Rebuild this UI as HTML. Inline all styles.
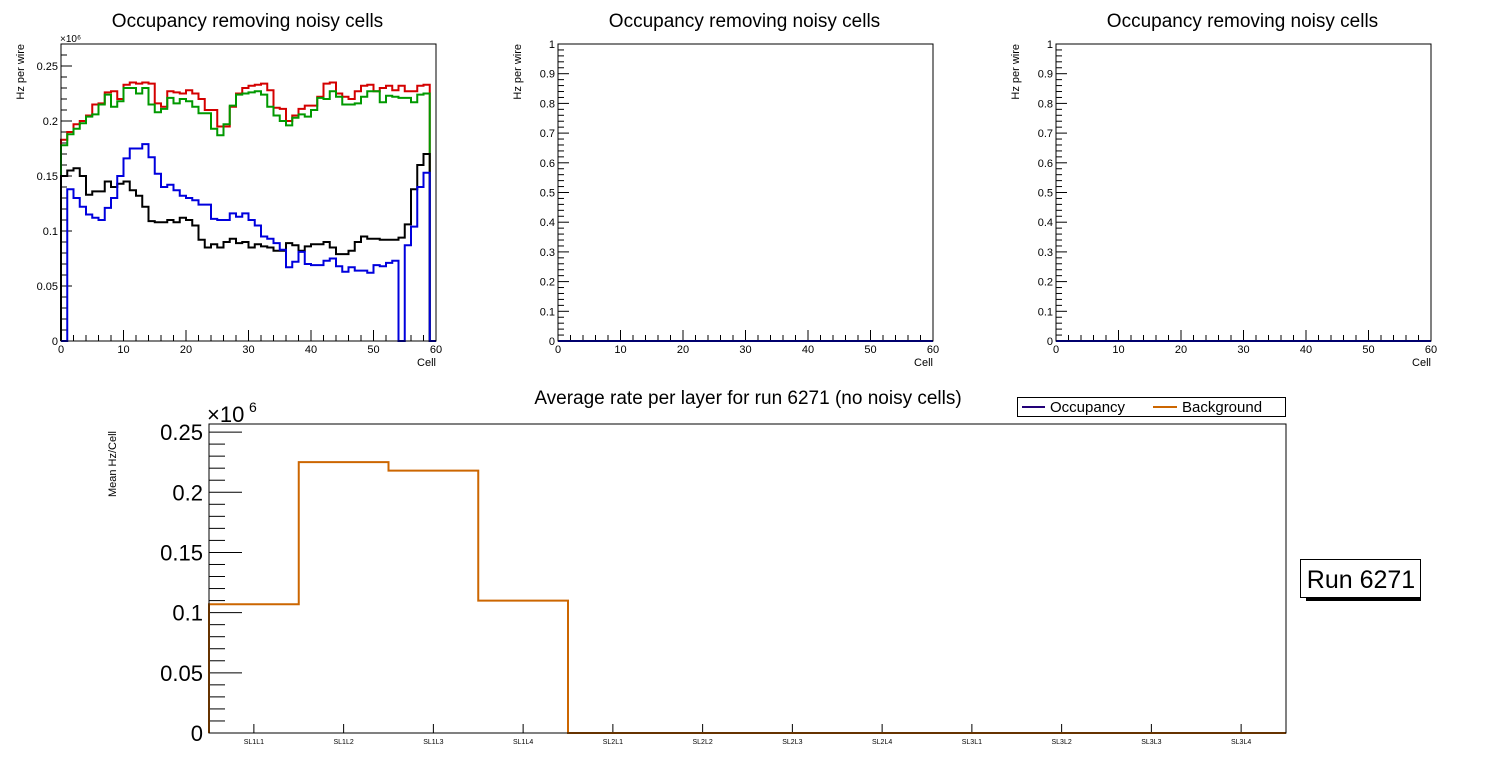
<!DOCTYPE html>
<html><head><meta charset="utf-8"><style>
html,body{margin:0;padding:0;background:#fff;width:1496px;height:772px;overflow:hidden}
svg{display:block;font-family:"Liberation Sans",Arial,sans-serif}
</style></head><body>
<svg id="c" width="1496" height="772" viewBox="0 0 1496 772"></svg>
<script>
// ---- data: top-left panel (60 cell bins) ----
const redVals=[0.183,0.19,0.197,0.2,0.205,0.215,0.216,0.226,0.227,0.22,0.233,0.235,0.234,0.235,0.234,0.216,0.213,0.227,0.226,0.225,0.228,0.225,0.22,0.21,0.21,0.195,0.195,0.213,0.225,0.23,0.232,0.233,0.234,0.228,0.212,0.211,0.2,0.205,0.211,0.214,0.214,0.222,0.234,0.235,0.225,0.222,0.22,0.227,0.232,0.233,0.227,0.23,0.232,0.228,0.232,0.227,0.227,0.232,0.233,0];
const greenVals=[0.178,0.188,0.193,0.198,0.204,0.206,0.215,0.224,0.213,0.218,0.23,0.23,0.225,0.23,0.215,0.208,0.211,0.221,0.216,0.22,0.218,0.213,0.207,0.207,0.193,0.187,0.197,0.214,0.224,0.225,0.226,0.227,0.224,0.213,0.205,0.2,0.196,0.203,0.206,0.204,0.21,0.221,0.22,0.227,0.222,0.215,0.215,0.216,0.222,0.227,0.227,0.217,0.223,0.222,0.221,0.221,0.217,0.224,0.225,0];
const blueVals=[0,0.138,0.13,0.122,0.115,0.112,0.11,0.121,0.13,0.15,0.166,0.175,0.175,0.179,0.167,0.152,0.14,0.142,0.137,0.132,0.13,0.128,0.124,0.124,0.111,0.11,0.11,0.116,0.113,0.116,0.11,0.105,0.095,0.093,0.089,0.083,0.067,0.072,0.081,0.07,0.069,0.069,0.073,0.075,0.068,0.063,0.067,0.064,0.064,0.062,0.069,0.068,0.071,0.073,0,0.087,0.104,0.14,0.153,0];
const blackVals=[0.15,0.155,0.157,0.15,0.133,0.136,0.136,0.145,0.14,0.143,0.145,0.137,0.132,0.122,0.109,0.108,0.108,0.11,0.108,0.112,0.11,0.105,0.092,0.085,0.088,0.085,0.09,0.093,0.089,0.09,0.085,0.088,0.086,0.085,0.082,0.082,0.089,0.087,0.082,0.086,0.088,0.088,0.09,0.085,0.079,0.079,0.082,0.09,0.095,0.093,0.093,0.092,0.092,0.092,0.094,0.106,0.138,0.16,0.17,0];
const topTicksY=["0","0.05","0.1","0.15","0.2","0.25"];
const topTicksYValues=[0,0.05,0.1,0.15,0.2,0.25];
const emptyTicksY=["0","0.1","0.2","0.3","0.4","0.5","0.6","0.7","0.8","0.9","1"];
const cellTicks=[0,10,20,30,40,50,60];
// ---- data: bottom panel ----
const layers=["SL1L1","SL1L2","SL1L3","SL1L4","SL2L1","SL2L2","SL2L3","SL2L4","SL3L1","SL3L2","SL3L3","SL3L4"];
const bgVals=[0.107,0.225,0.218,0.11,0,0,0,0,0,0,0,0];
const bottomTicks=["0","0.05","0.1","0.15","0.2","0.25"];
const bottomTickValues=[0,0.05,0.1,0.15,0.2,0.25];

const NS="http://www.w3.org/2000/svg";
const svg=document.getElementById('c');
function mk(tag,attrs,parent){const e=document.createElementNS(NS,tag);for(const k in attrs)e.setAttribute(k,attrs[k]);(parent||svg).appendChild(e);return e;}
function txt(s,attrs,parent){const e=mk('text',attrs,parent);e.textContent=s;return e;}

function stepPath(vals,xs,ys,n){let d='';for(let i=0;i<vals.length;i++){const x0=xs(i*n),x1=xs((i+1)*n),y=ys(vals[i]);d+=(i===0?`M${x0},${ys(0)}L${x0},${y}`:`L${x0},${y}`)+`L${x1},${y}`;}d+=`L${xs(vals.length*n)},${ys(0)}`;return d;}

function topPanel(px,name,ymax,series,yLabels,yVals,yMinorStep,yMajStep){
  const L=px,R=px+375,T=44,B=341;
  const g=mk('g',{});
  
  
  const xs=v=>L+(v/60)*(R-L);
  const ys=v=>B-(v/ymax)*(B-T);
  const t=txt('Occupancy removing noisy cells',{x:(L+R)/2-1,y:27,'font-size':19,'text-anchor':'middle'},g);
  
  
  for(let v=0;v<=60;v+=2){const maj=v%10===0;mk('line',{x1:xs(v),x2:xs(v),y1:B,y2:B-(maj?11:6),stroke:'#000','stroke-width':1},g);}
  cellTicks.forEach(v=>{const l=txt(String(v),{x:xs(v),y:B+12,'font-size':11,'text-anchor':'middle'},g);});
  const nm=Math.round(ymax/yMinorStep);
  for(let i=0;i<=nm;i++){const v=i*yMinorStep;const maj=Math.abs(v/yMajStep-Math.round(v/yMajStep))<1e-6;mk('line',{x1:L,x2:L+(maj?11:6),y1:ys(v),y2:ys(v),stroke:'#000','stroke-width':1},g);}
  yLabels.forEach((s,i)=>{const l=txt(s,{x:L-3,y:ys(yVals[i])+4,'font-size':11,'text-anchor':'end'},g);});
  const xt=txt('Cell',{x:R,y:B+25,'font-size':11,'text-anchor':'end'},g);
  const yt=txt('Hz per wire',{x:0,y:0,'font-size':11,'text-anchor':'end',transform:`translate(${L-37},${T}) rotate(-90)`},g);
  series.forEach(s=>{const p=mk('path',{d:stepPath(s.v,xs,ys,1),fill:'none',stroke:s.c,'stroke-width':2},g);});
  mk('rect',{x:L,y:T,width:R-L,height:B-T,fill:'none',stroke:'#000','stroke-width':1},g);
  return {g,L,T};
}
const p1=topPanel(61,'occupancy-panel-1',0.27,[
  {v:redVals,c:'#d40000',n:'series-red'},
  {v:greenVals,c:'#009900',n:'series-green'},
  {v:blackVals,c:'#000',n:'series-black'},
  {v:blueVals,c:'#0000dd',n:'series-blue'}],topTicksY,topTicksYValues,0.01,0.05);
const ex=txt('×10⁶',{x:60,y:42,'font-size':10},p1.g);
const zeros=new Array(60).fill(0);
const emptyVals=emptyTicksY.map(Number);
topPanel(558,'occupancy-panel-2',1,[{v:zeros,c:'#0000dd',n:'series-blue'}],emptyTicksY,emptyVals,0.02,0.1);
topPanel(1056,'occupancy-panel-3',1,[{v:zeros,c:'#0000dd',n:'series-blue'}],emptyTicksY,emptyVals,0.02,0.1);

// ---- bottom chart ----
(function(){
  const L=209,R=1286,T=424,B=733,ymax=0.2567;
  const g=mk('g',{});
  
  
  const bw=(R-L)/layers.length;
  const xs=v=>L+v*bw;
  const ys=v=>B-(v/ymax)*(B-T);
  const t=txt('Average rate per layer for run 6271 (no noisy cells)',{x:748,y:404,'font-size':19,'text-anchor':'middle'},g);
  
  for(let i=0;i<=25;i++){const v=i*0.01;const maj=i%5===0;mk('line',{x1:L,x2:L+(maj?33:16),y1:ys(v),y2:ys(v),stroke:'#000','stroke-width':1},g);}
  bottomTicks.forEach((s,i)=>{const l=txt(s,{x:L-6,y:ys(bottomTickValues[i])+8,'font-size':22,'text-anchor':'end'},g);});
  const e=txt('×10',{x:L-2,y:T-2,'font-size':22},g);
  txt('6',{x:L+40,y:T-12,'font-size':14},g);
  const yt=txt('Mean Hz/Cell',{x:0,y:0,'font-size':11,'text-anchor':'middle',transform:`translate(116,464) rotate(-90)`},g);
  layers.forEach((s,i)=>{const cx=xs(i+0.5);mk('line',{x1:cx,x2:cx,y1:B,y2:B-9,stroke:'#000','stroke-width':1},g);const l=txt(s,{x:cx,y:B+11,'font-size':7,'text-anchor':'middle'},g);});
  const p=mk('path',{d:stepPath(bgVals,xs,ys,1),fill:'none',stroke:'#cc6600','stroke-width':2},g);
  
  mk('rect',{x:L,y:T,width:R-L,height:B-T,fill:'none',stroke:'#000','stroke-width':1},g);
  const lg=mk('g',{},g);
  
  mk('rect',{x:1017.5,y:397.5,width:268,height:19,fill:'#fff',stroke:'#000','stroke-width':1},lg);
  mk('line',{x1:1022,x2:1045,y1:407,y2:407,stroke:'#220077','stroke-width':2},lg);
  const o=txt('Occupancy',{x:1050,y:412,'font-size':15},lg);
  mk('line',{x1:1153,x2:1177,y1:407,y2:407,stroke:'#cc6600','stroke-width':2},lg);
  const b=txt('Background',{x:1182,y:412,'font-size':15},lg);
  const rb=mk('g',{});
  
  mk('rect',{x:1306,y:597,width:115,height:4,fill:'#000'},rb);
  mk('rect',{x:1300.5,y:559.5,width:120,height:38,fill:'#fff',stroke:'#000','stroke-width':1},rb);
  txt('Run 6271',{x:1361,y:588,'font-size':25,'text-anchor':'middle'},rb);
})();
</script>
</body></html>
